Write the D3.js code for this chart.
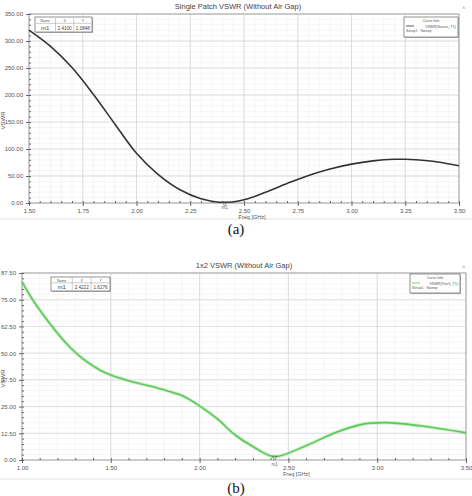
<!DOCTYPE html>
<html>
<head>
<meta charset="utf-8">
<script src="https://cdn.jsdelivr.net/npm/d3@7"></script>
<style>
  body { margin: 0; background: #fff; }
  svg { display: block; font-family: 'Liberation Sans', Arial, sans-serif; }
  .tick text { fill: #555; font-size: 6px; }
  .tick line { stroke: #666; }
  .domain { stroke: #999; }
</style>
</head>
<body>
<div id="container"></div>
<script>
// chart (a): single patch
let freqA = [1.50, 1.60, 1.70, 1.80, 1.90, 2.00, 2.10, 2.20, 2.30, 2.41, 2.50, 2.60, 2.70, 2.80, 2.90, 3.00, 3.10, 3.20, 3.25, 3.30, 3.40, 3.50]
let vswrA = [320, 290, 251, 201, 146, 92, 53, 25, 8, 1.1, 6, 20, 36, 51, 63, 72, 78, 81, 81, 80, 76, 69]
let xTicksA = [1.50, 1.75, 2.00, 2.25, 2.50, 2.75, 3.00, 3.25, 3.50]
let yTicksA = [0, 50, 100, 150, 200, 250, 300, 350]

// chart (b): 1x2 array
let freqB = [1.00, 1.06, 1.16, 1.25, 1.34, 1.44, 1.50, 1.62, 1.72, 1.82, 1.91, 2.00, 2.10, 2.20, 2.30, 2.42, 2.58, 2.77, 2.92, 3.05, 3.24, 3.50]
let vswrB = [83.3, 75, 63.5, 54.5, 47.5, 42, 39.8, 36.6, 34.6, 32.3, 29.8, 25.3, 19.2, 11.7, 6.3, 1.6, 6, 13, 16.8, 17.5, 16, 12.7]
let xTicksB = [1.00, 1.50, 2.00, 2.50, 3.00, 3.50]
let yTicksB = [0, 12.5, 25, 37.5, 50, 62.5, 75, 87.5]

let svg = d3.select('#container').append('svg')
  .attr('width', 472).attr('height', 496)

function drawChart(cfg) {
  let g = svg.append('g')
  // panel bottom line
  g.append('line').attr('x1', 0).attr('x2', 472)
    .attr('y1', cfg.panelBottom).attr('y2', cfg.panelBottom)
    .attr('stroke', '#e2e2e2')

  let x = d3.scaleLinear().domain(cfg.xDomain).range([cfg.left, cfg.right])
  let y = d3.scaleLinear().domain(cfg.yDomain).range([cfg.bottom, cfg.top])

  // minor grid
  let xMinor = d3.range(cfg.xDomain[0], cfg.xDomain[1] + 1e-9, cfg.xMinorStep)
  let yMinor = d3.range(cfg.yDomain[0], cfg.yDomain[1] + 1e-9, cfg.yMinorStep)
  g.selectAll('.xm').data(xMinor).enter().append('line')
    .attr('x1', d => x(d)).attr('x2', d => x(d))
    .attr('y1', cfg.top).attr('y2', cfg.bottom)
    .attr('stroke', '#eeeeee').attr('stroke-width', 0.6)
  g.selectAll('.ym').data(yMinor).enter().append('line')
    .attr('x1', cfg.left).attr('x2', cfg.right)
    .attr('y1', d => y(d)).attr('y2', d => y(d))
    .attr('stroke', '#eeeeee').attr('stroke-width', 0.6)
  // major grid
  g.selectAll('.xg').data(cfg.xTicks).enter().append('line')
    .attr('x1', d => x(d)).attr('x2', d => x(d))
    .attr('y1', cfg.top).attr('y2', cfg.bottom)
    .attr('stroke', '#d8d8d8').attr('stroke-width', 0.8)
  g.selectAll('.yg').data(cfg.yTicks).enter().append('line')
    .attr('x1', cfg.left).attr('x2', cfg.right)
    .attr('y1', d => y(d)).attr('y2', d => y(d))
    .attr('stroke', '#d8d8d8').attr('stroke-width', 0.8)

  // frame
  g.append('rect').attr('x', cfg.left).attr('y', cfg.top)
    .attr('width', cfg.right - cfg.left).attr('height', cfg.bottom - cfg.top)
    .attr('fill', 'none').attr('stroke', '#a8a8a8').attr('stroke-width', 1)

  // axes
  let xAxis = d3.axisBottom(x).tickValues(cfg.xTicks).tickFormat(d3.format('.2f')).tickSize(3)
  g.append('g').attr('transform', 'translate(0,' + cfg.bottom + ')').call(xAxis)
    .call(a => a.select('.domain').remove())
  g.append('g').attr('transform', 'translate(0,' + cfg.bottom + ')')
    .call(d3.axisBottom(x).tickValues(xMinor).tickFormat('').tickSize(-2))
    .call(a => a.select('.domain').remove())
  let yAxis = d3.axisLeft(y).tickValues(cfg.yTicks).tickFormat(d3.format('.2f')).tickSize(3)
  g.append('g').attr('transform', 'translate(' + cfg.left + ',0)').call(yAxis)
    .call(a => a.select('.domain').remove())
  g.append('g').attr('transform', 'translate(' + cfg.left + ',0)')
    .call(d3.axisLeft(y).tickValues(yMinor).tickFormat('').tickSize(-2))
    .call(a => a.select('.domain').remove())

  // title & labels
  g.append('text').text(cfg.title)
    .attr('x', cfg.titleX).attr('y', cfg.top - 5)
    .attr('text-anchor', 'middle').attr('font-size', 7.5).attr('fill', '#444')
  g.append('text').text('\u02C4').attr('x', 462).attr('y', cfg.top - 4)
    .attr('font-size', 6).attr('fill', '#888')
  g.append('text').text('Freq [GHz]')
    .attr('x', x(2.5) + 8).attr('y', cfg.bottom + 16)
    .attr('text-anchor', 'middle').attr('font-size', 5.5).attr('fill', '#555')
  g.append('text').text('VSWR')
    .attr('transform', 'translate(5,' + ((cfg.top + cfg.bottom) / 2 + 12) + ') rotate(-90)')
    .attr('text-anchor', 'middle').attr('font-size', 6).attr('fill', '#555')

  // curve
  let line = d3.line().x(d => x(d[0])).y(d => y(d[1])).curve(d3.curveCatmullRom.alpha(0.5))
  let pts = cfg.freq.map((f, i) => [f, cfg.vswr[i]])
  if (cfg.glow) {
    g.append('path').attr('d', line(pts)).attr('fill', 'none')
      .attr('stroke', cfg.glow).attr('stroke-width', 3.6).attr('stroke-opacity', 0.55)
  }
  g.append('path').attr('d', line(pts)).attr('fill', 'none')
    .attr('stroke', cfg.color).attr('stroke-width', cfg.width)

  // marker
  g.append('path').attr('d', d3.symbol(d3.symbolTriangle, 10)())
    .attr('transform', 'translate(' + x(cfg.marker[0]) + ',' + (y(cfg.marker[1]) + 1) + ') rotate(180)')
    .attr('fill', 'none').attr('stroke', '#666').attr('stroke-width', 0.6)
  g.append('text').text('m1').attr('x', x(cfg.marker[0])).attr('y', cfg.bottom + 6)
    .attr('text-anchor', 'middle').attr('font-size', 4.5).attr('fill', '#666')

  // marker table
  let t = cfg.table
  g.append('rect').attr('x', t.x + 1).attr('y', t.y + 1).attr('width', t.w).attr('height', t.h)
    .attr('fill', '#bbb')
  g.append('rect').attr('x', t.x).attr('y', t.y).attr('width', t.w).attr('height', t.h)
    .attr('fill', '#fff').attr('stroke', '#666').attr('stroke-width', 0.7)
  let cols = [0, 0.36, 0.68, 1]
  cols.slice(1, 3).forEach(c => {
    g.append('line').attr('x1', t.x + c * t.w).attr('x2', t.x + c * t.w)
      .attr('y1', t.y + 1).attr('y2', t.y + t.h - 1).attr('stroke', '#999').attr('stroke-width', 0.5)
  })
  g.append('line').attr('x1', t.x + 1).attr('x2', t.x + t.w - 1)
    .attr('y1', t.y + t.h * 0.42).attr('y2', t.y + t.h * 0.42).attr('stroke', '#999').attr('stroke-width', 0.5)
  let heads = ['Name', 'X', 'Y']
  let vals = ['m1', cfg.marker[0].toFixed(4), cfg.marker[1].toFixed(4)]
  heads.forEach((h, i) => {
    let cx = t.x + (cols[i] + cols[i + 1]) / 2 * t.w
    g.append('text').text(h).attr('x', cx).attr('y', t.y + t.h * 0.33)
      .attr('text-anchor', 'middle').attr('font-size', 3.5).attr('fill', '#555')
    g.append('text').text(vals[i]).attr('x', cx).attr('y', t.y + t.h * 0.85)
      .attr('text-anchor', 'middle').attr('font-size', i === 0 ? 6 : 4.6).attr('fill', '#444')
  })

  // legend
  let l = cfg.legend
  g.append('rect').attr('x', l.x + 1).attr('y', l.y + 1).attr('width', l.w).attr('height', l.h)
    .attr('fill', '#bbb')
  g.append('rect').attr('x', l.x).attr('y', l.y).attr('width', l.w).attr('height', l.h)
    .attr('fill', '#fff').attr('stroke', '#666').attr('stroke-width', 0.7)
  g.append('text').text('Curve Info').attr('x', l.x + l.w / 2).attr('y', l.y + 5)
    .attr('text-anchor', 'middle').attr('font-size', 3.6).attr('fill', '#555')
  g.append('line').attr('x1', l.x + 2).attr('x2', l.x + 10)
    .attr('y1', l.y + 9).attr('y2', l.y + 9).attr('stroke', cfg.color).attr('stroke-width', 0.8)
  g.append('text').text(cfg.legendName).attr('x', l.x + l.w - 2).attr('y', l.y + 10.5)
    .attr('text-anchor', 'end').attr('font-size', 3.6).attr('fill', '#555')
  g.append('text').text('Setup1 : Sweep').attr('x', l.x + 2).attr('y', l.y + 15)
    .attr('font-size', 3.6).attr('fill', '#555')

  // sub caption
  g.append('text').text(cfg.caption).attr('x', 236).attr('y', cfg.captionY)
    .attr('text-anchor', 'middle').attr('font-size', 15)
    .attr('font-family', "'Liberation Serif', 'DejaVu Serif', serif").attr('fill', '#111')
}

drawChart({
  xDomain: [1.5, 3.5], yDomain: [0, 350], xTicks: xTicksA, yTicks: yTicksA,
  xMinorStep: 0.05, yMinorStep: 10,
  left: 29, right: 459, top: 14, bottom: 203,
  freq: freqA, vswr: vswrA, color: '#333', width: 1.6,
  title: 'Single Patch VSWR (Without Air Gap)', titleX: 238,
  marker: [2.41, 1.0848],
  table: { x: 35, y: 17, w: 57, h: 15 },
  legend: { x: 404, y: 17, w: 54, h: 20 }, legendName: 'VSWR(Source_T1)',
  panelBottom: 219, caption: '(a)', captionY: 234
})

drawChart({
  xDomain: [1.0, 3.5], yDomain: [0, 87.5], xTicks: xTicksB, yTicks: yTicksB,
  xMinorStep: 0.1, yMinorStep: 2.5,
  left: 22, right: 466, top: 273, bottom: 460,
  freq: freqB, vswr: vswrB, color: '#5cc85c', width: 1.6, glow: '#a8e6a0',
  title: '1x2 VSWR (Without Air Gap)', titleX: 244,
  marker: [2.4222, 1.6276],
  table: { x: 51, y: 277, w: 59, h: 14 },
  legend: { x: 410, y: 274, w: 50, h: 19 }, legendName: 'VSWR(Patch_T1)',
  panelBottom: 479, caption: '(b)', captionY: 493
})
</script>
</body>
</html>
